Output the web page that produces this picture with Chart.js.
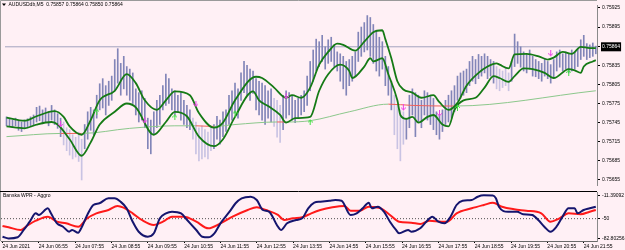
<!DOCTYPE html>
<html><head><meta charset="utf-8">
<script src="https://cdn.jsdelivr.net/npm/chart.js@4.4.1/dist/chart.umd.min.js"></script>
<style>
html,body{margin:0;padding:0;background:#fff0f5;}
#wrap{position:relative;width:625px;height:250px;background:#fff0f5;overflow:hidden}
#c1{position:absolute;left:0;top:0;width:625px;height:190px}
#c2{position:absolute;left:0;top:190px;width:625px;height:60px}
</style></head><body>
<div id="wrap"><canvas id="c1" width="625" height="190"></canvas><canvas id="c2" width="625" height="60"></canvas></div>
<script>
// ---------- DATA ----------
const symbolTitle = "AUDUSDdb,M5  0.75857 0.75864 0.75850 0.75864";
const indicatorTitle = "Banska WPR - Aggro";
const timeLabels = ["24 Jun 2021","24 Jun 06:55","24 Jun 07:55","24 Jun 08:55","24 Jun 09:55","24 Jun 10:55","24 Jun 11:55","24 Jun 12:55","24 Jun 13:55","24 Jun 14:55","24 Jun 15:55","24 Jun 16:55","24 Jun 17:55","24 Jun 18:55","24 Jun 19:55","24 Jun 20:55","24 Jun 21:55"];
const timeLabelBars = [0,12,24,36,48,60,72,84,96,108,120,132,144,156,168,180,192];
const priceTicks = [0.75925,0.75895,0.75835,0.75805,0.75775,0.75745,0.75715,0.75685,0.75655];
const lastPrice = 0.75864;

const barHigh = [0.75754,0.75751,0.75749,0.75752,0.75748,0.75746,0.75749,0.75751,0.75754,0.75757,
0.75769,0.75771,0.75765,0.75768,0.75762,0.75772,0.75765,0.75759,0.75752,0.75746,
0.75737,0.75734,0.75726,0.75722,0.75730,0.75719,0.75742,0.75762,0.75769,0.75765,
0.75788,0.75806,0.75814,0.75803,0.75810,0.75818,0.75844,0.75861,0.75838,0.75849,
0.75833,0.75829,0.75823,0.75798,0.75792,0.75795,0.75783,0.75752,0.75749,0.75762,
0.75780,0.75788,0.75803,0.75821,0.75814,0.75798,0.75795,0.75788,0.75792,0.75780,
0.75772,0.75765,0.75752,0.75746,0.75737,0.75740,0.75734,0.75730,0.75737,0.75742,
0.75755,0.75749,0.75762,0.75765,0.75788,0.75795,0.75807,0.75798,0.75823,0.75841,
0.75835,0.75829,0.75826,0.75814,0.75810,0.75807,0.75803,0.75795,0.75798,0.75783,
0.75780,0.75772,0.75788,0.75795,0.75792,0.75788,0.75780,0.75783,0.75788,0.75795,
0.75818,0.75841,0.75859,0.75876,0.75872,0.75882,0.75864,0.75875,0.75879,0.75867,
0.75856,0.75853,0.75849,0.75841,0.75844,0.75849,0.75856,0.75887,0.75895,0.75902,
0.75913,0.75910,0.75899,0.75890,0.75879,0.75872,0.75849,0.75833,0.75810,0.75788,
0.75772,0.75765,0.75762,0.75752,0.75788,0.75798,0.75792,0.75788,0.75780,0.75795,
0.75792,0.75788,0.75783,0.75762,0.75757,0.75765,0.75780,0.75788,0.75795,0.75803,
0.75818,0.75823,0.75826,0.75829,0.75841,0.75849,0.75844,0.75852,0.75849,0.75853,
0.75849,0.75844,0.75841,0.75833,0.75829,0.75826,0.75832,0.75823,0.75841,0.75884,
0.75872,0.75864,0.75856,0.75853,0.75859,0.75849,0.75844,0.75841,0.75838,0.75846,
0.75841,0.75836,0.75844,0.75856,0.75859,0.75853,0.75856,0.75853,0.75859,0.75856,
0.75862,0.75875,0.75882,0.75869,0.75867,0.75870,0.75865];
const barLow = [0.75740,0.75739,0.75737,0.75740,0.75733,0.75731,0.75736,0.75737,0.75739,0.75740,
0.75746,0.75748,0.75743,0.75746,0.75740,0.75749,0.75742,0.75736,0.75723,0.75710,
0.75701,0.75694,0.75688,0.75691,0.75684,0.75655,0.75704,0.75719,0.75733,0.75726,
0.75752,0.75765,0.75768,0.75757,0.75772,0.75780,0.75795,0.75807,0.75788,0.75798,
0.75788,0.75780,0.75775,0.75757,0.75746,0.75749,0.75737,0.75704,0.75696,0.75726,
0.75737,0.75742,0.75765,0.75772,0.75775,0.75765,0.75757,0.75762,0.75749,0.75742,
0.75737,0.75734,0.75719,0.75696,0.75685,0.75688,0.75691,0.75688,0.75701,0.75704,
0.75719,0.75711,0.75723,0.75731,0.75742,0.75749,0.75760,0.75752,0.75780,0.75792,
0.75788,0.75780,0.75791,0.75765,0.75757,0.75749,0.75742,0.75752,0.75746,0.75739,
0.75722,0.75714,0.75734,0.75752,0.75757,0.75749,0.75745,0.75752,0.75757,0.75762,
0.75772,0.75795,0.75810,0.75826,0.75833,0.75841,0.75829,0.75838,0.75841,0.75833,
0.75826,0.75810,0.75798,0.75788,0.75803,0.75810,0.75818,0.75841,0.75849,0.75856,
0.75859,0.75849,0.75838,0.75826,0.75818,0.75829,0.75803,0.75788,0.75765,0.75726,
0.75704,0.75685,0.75711,0.75719,0.75737,0.75757,0.75723,0.75746,0.75737,0.75757,
0.75749,0.75742,0.75734,0.75726,0.75719,0.75731,0.75742,0.75746,0.75752,0.75762,
0.75780,0.75783,0.75788,0.75792,0.75803,0.75810,0.75806,0.75814,0.75818,0.75823,
0.75814,0.75818,0.75807,0.75798,0.75795,0.75800,0.75803,0.75795,0.75810,0.75833,
0.75838,0.75832,0.75826,0.75823,0.75829,0.75818,0.75817,0.75814,0.75810,0.75818,
0.75814,0.75807,0.75815,0.75826,0.75832,0.75826,0.75829,0.75823,0.75826,0.75829,
0.75833,0.75844,0.75849,0.75844,0.75847,0.75849,0.75853];
const lightBars = [19,20,21,22,23,24,25,62,63,64,65,66,67,68,89,90,91,129,130,131,132,163,164,165,166,167];

const envUpperBar = [0,6,10,16,19,21,25,28,31,36,40,43,46,50,53,56,61,64,69,72,76,83,85,89,93,95,98,101,104,107,110,112,116,119,122,125,126,128,130,132,135,138,142,144,147,150,153,157,160,163,164,167,169,173,177,180,182,185,188,191,194,196];
const envUpper = [0.75753,0.75748,0.75755,0.75763,0.75754,0.75739,0.75726,0.75749,0.75780,0.75795,
0.75821,0.75807,0.75780,0.75765,0.75780,0.75794,0.75788,0.75760,0.75737,0.75745,
0.75780,0.75817,0.75815,0.75800,0.75784,0.75788,0.75784,0.75800,0.75836,0.75856,
0.75869,0.75867,0.75858,0.75872,0.75887,0.75890,0.75876,0.75846,0.75810,0.75797,
0.75792,0.75784,0.75788,0.75777,0.75765,0.75776,0.75803,0.75823,0.75833,0.75838,
0.75836,0.75830,0.75852,0.75853,0.75849,0.75844,0.75847,0.75856,0.75853,0.75864,
0.75862,0.75862];
const envLowerBar = [0,6,10,15,17,21,25,28,31,36,40,43,49,53,56,60,64,69,72,76,82,84,87,91,93,96,101,104,107,111,114,115,119,121,122,125,127,130,131,133,135,137,140,142,145,147,149,152,156,159,162,164,167,169,172,175,179,182,187,189,191,192,195,196];
const envLower = [0.75739,0.75736,0.75742,0.75746,0.75742,0.75719,0.75693,0.75714,0.75742,0.75762,
0.75775,0.75769,0.75726,0.75746,0.75762,0.75755,0.75723,0.75708,0.75719,0.75754,
0.75794,0.75780,0.75771,0.75757,0.75745,0.75752,0.75754,0.75795,0.75821,0.75836,
0.75826,0.75815,0.75833,0.75846,0.75841,0.75846,0.75821,0.75780,0.75757,0.75751,
0.75754,0.75745,0.75754,0.75757,0.75742,0.75739,0.75765,0.75780,0.75784,0.75800,
0.75818,0.75815,0.75809,0.75818,0.75830,0.75829,0.75823,0.75815,0.75829,0.75827,
0.75823,0.75833,0.75841,0.75843];
const maBar = [0,18,25,41,56,63,69,76,90,93,101,114,127,135,149,196];
const maValues = [0.75723,0.75728,0.75728,0.75736,0.75740,0.75740,0.75739,0.75742,0.75746,0.75746,0.75748,0.75762,0.75774,0.75772,0.75771,0.75795];
const maRedRanges = [[18,25],[63,69],[90,93],[127,149]];

const sellArrowBar = [18,46,63,93,132,144,181];
const sellArrowPrice = [0.75742,0.75748,0.75774,0.75786,0.75768,0.75759,0.75853];
const buyArrowBar = [30,56,76,101,150,187];
const buyArrowPrice = [0.75763,0.75754,0.75760,0.75746,0.75769,0.75824];

const wprBar = [0,2,5,7,9,11,12,15,16,18,20,22,23,25,26,28,30,32,35,37,39,41,43,45,48,50,52,54,56,59,61,64,66,68,70,72,75,77,79,82,84,86,88,91,92,94,97,99,101,103,105,108,110,112,115,117,119,121,122,124,126,128,130,131,134,135,138,140,142,144,146,148,150,152,155,157,159,162,163,164,167,170,172,175,177,179,181,183,185,187,189,190,192,194,196];
const wprMain = [-79.8,-82.80256,-80.8,-68.7,-55.0,-41.2,-43.9,-32.9,-41.2,-57.7,
-63.3,-71.6,-68.7,-73.2,-65.9,-43.9,-27.4,-24.6,-16.4,-16.4,
-22.0,-32.9,-55.0,-71.6,-79.8,-74.2,-49.4,-41.2,-38.5,-41.2,
-52.2,-68.7,-79.8,-80.8,-74.2,-57.7,-38.5,-24.6,-16.4,-13.7,
-19.2,-35.7,-38.5,-63.3,-68.7,-57.7,-52.2,-49.4,-32.9,-23.6,
-22.0,-20.3,-19.2,-20.3,-43.9,-41.2,-32.9,-23.6,-32.9,-30.2,
-38.5,-55.0,-68.7,-74.2,-68.7,-71.6,-65.9,-55.0,-46.8,-55.0,
-57.7,-46.8,-27.4,-20.3,-19.2,-13.7,-11.39092,-11.6,-16.4,-30.2,
-38.5,-38.5,-42.8,-43.9,-52.2,-63.3,-71.6,-63.3,-46.8,-32.9,
-32.9,-41.2,-35.7,-32.9,-30.2];
const sigBar = [0,2,6,8,11,15,18,21,25,28,31,35,38,40,43,46,50,53,56,60,64,68,72,76,81,84,87,91,93,96,99,102,105,109,113,115,118,121,125,128,131,135,138,141,145,147,150,155,159,162,165,169,173,178,181,184,187,191,194,196];
const wprSignal = [-62.1,-64.3,-68.7,-62.1,-53.4,-46.8,-55.0,-57.7,-63.3,-49.4,
-41.2,-35.7,-29.1,-31.9,-41.2,-52.2,-60.5,-55.0,-46.8,-46.8,
-55.0,-65.9,-57.7,-46.8,-35.7,-31.2,-35.7,-43.9,-52.2,-49.4,
-47.8,-41.2,-35.7,-31.2,-29.1,-36.9,-36.9,-30.2,-32.9,-43.9,
-55.0,-56.7,-58.8,-53.4,-55.0,-55.0,-41.2,-32.9,-27.4,-23.6,
-30.2,-34.5,-36.9,-41.2,-55.0,-49.4,-41.2,-42.8,-38.5,-35.7];
const wprTicks = [-11.39092,-50,-82.80256];
const wprLevel = -50;

// ---------- STYLE / LAYOUT ----------
const BG = '#fff0f5';
const FONT = 'Liberation Sans';
const X_MIN = -0.5, X_MAX = 196.4;
const AXIS_W = 28;

function makeArrow(color, down){
  const c = document.createElement('canvas'); c.width = 5; c.height = 7;
  const g = c.getContext('2d'); g.fillStyle = color;
  if (down){
    g.fillRect(2,0,1,6);
    g.fillRect(0,3,1,1); g.fillRect(1,4,1,1); g.fillRect(3,4,1,1); g.fillRect(4,3,1,1);
  } else {
    g.fillRect(2,1,1,6);
    g.fillRect(0,3,1,1); g.fillRect(1,2,1,1); g.fillRect(3,2,1,1); g.fillRect(4,3,1,1);
  }
  return c;
}
const arrowDown = makeArrow('#ee3fe6', true);
const arrowUp = makeArrow('#3fe23f', false);

const pts = (xs, ys) => xs.map((x,k)=>({x:x, y:ys[k]}));
const inRed = (a,b) => maRedRanges.some(r => a >= r[0] && b <= r[1]);

const bgPlugin = {
  id:'bgfill',
  beforeDraw(chart){ const c = chart.ctx; c.save(); c.fillStyle = BG; c.fillRect(0,0,chart.width,chart.height); c.restore(); }
};

const mainDeco = {
  id:'mainDeco',
  afterDraw(chart){
    const c = chart.ctx; const a = chart.chartArea;
    c.save();
    c.strokeStyle = '#9a9a9a'; c.lineWidth = 1;
    c.beginPath(); c.moveTo(0.5, chart.height); c.lineTo(0.5,0.5); c.lineTo(a.right, 0.5); c.stroke();
    c.fillStyle = '#000';
    c.beginPath(); c.moveTo(2,3.5); c.lineTo(6,3.5); c.lineTo(4,6); c.closePath(); c.fill();
    c.font = '5px "' + FONT + '"'; c.textBaseline = 'middle'; c.textAlign = 'left';
    c.fillText(symbolTitle, 8.5, 5);
    c.restore();
  }
};
const subDeco = {
  id:'subDeco',
  afterDraw(chart){
    const c = chart.ctx; const a = chart.chartArea;
    c.save();
    c.strokeStyle = '#9a9a9a'; c.lineWidth = 1;
    c.beginPath(); c.moveTo(0.5, 0); c.lineTo(0.5, a.bottom); c.stroke();
    c.strokeStyle = '#000';
    c.beginPath(); c.moveTo(0, 1.5); c.lineTo(a.right, 1.5); c.stroke();
    c.fillStyle = '#000';
    c.font = '5px "' + FONT + '"'; c.textBaseline = 'middle'; c.textAlign = 'left';
    c.fillText(indicatorTitle, 3, 5.7);
    c.restore();
  }
};

new Chart(document.getElementById('c1'), {
  type:'bar',
  data:{ datasets:[
    { type:'line', label:'Sell', data: pts(sellArrowBar, sellArrowPrice), showLine:false, pointStyle: arrowDown, pointRadius:3, order:0 },
    { type:'line', label:'Buy', data: pts(buyArrowBar, buyArrowPrice), showLine:false, pointStyle: arrowUp, pointRadius:3, order:0 },
    { type:'line', label:'Upper', data: pts(envUpperBar, envUpper), borderColor:'#157a15', borderWidth:1.8, pointRadius:0, cubicInterpolationMode:'monotone', order:1 },
    { type:'line', label:'Lower', data: pts(envLowerBar, envLower), borderColor:'#157a15', borderWidth:1.8, pointRadius:0, cubicInterpolationMode:'monotone', order:1 },
    { type:'line', label:'MA', data: pts(maBar, maValues), borderColor:'#8cc88c', borderWidth:1, pointRadius:0, cubicInterpolationMode:'monotone', order:2,
      segment:{ borderColor: ctx => inRed(ctx.p0.parsed.x, ctx.p1.parsed.x) ? '#f0605a' : '#8cc88c' } },
    { type:'bar', label:'Bars', data: barHigh.map((h,i)=>({x:i, y:[barLow[i], h]})),
      backgroundColor: barHigh.map((h,i)=> lightBars.includes(i) ? '#c9c3e3' : '#8285b8'),
      barThickness:1, borderWidth:0, order:3 },
    { type:'line', label:'Last', data:[{x:X_MIN,y:lastPrice},{x:X_MAX,y:lastPrice}], borderColor:'#a3a3bf', borderWidth:1, pointRadius:0, order:5 }
  ]},
  options:{
    responsive:false, animation:false, devicePixelRatio:1,
    layout:{ padding:{ left:1, right:0, top:2, bottom:3 } },
    plugins:{ legend:{display:false}, tooltip:{enabled:false} },
    scales:{
      x:{ type:'linear', min:X_MIN, max:X_MAX, offset:false, display:false },
      y:{ type:'linear', position:'right', min:0.756471, max:0.759296,
        afterBuildTicks: s => { s.ticks = priceTicks.concat([lastPrice]).map(v=>({value:v})); },
        afterFit: s => { s.width = AXIS_W; s.paddingTop = 0; s.paddingBottom = 0; },
        ticks:{ autoSkip:false, callback: v => Number(v).toFixed(5), font:{family:FONT, size:5}, padding:2,
          color: ctx => (ctx.tick && ctx.tick.value === lastPrice) ? '#ffffff' : '#000000',
          showLabelBackdrop: ctx => !!(ctx.tick && ctx.tick.value === lastPrice),
          backdropColor:'#000000', backdropPadding:{x:1, y:1.5} },
        grid:{ drawOnChartArea:false, drawTicks:true, tickLength:3, color:'#000' },
        border:{ display:true, color:'#8a8a8a' }
      }
    }
  },
  plugins:[bgPlugin, mainDeco]
});

new Chart(document.getElementById('c2'), {
  type:'line',
  data:{ datasets:[
    { label:'WPR', data: pts(wprBar, wprMain), borderColor:'#15156e', borderWidth:2, pointRadius:0, cubicInterpolationMode:'monotone', order:0 },
    { label:'Signal', data: pts(sigBar, wprSignal), borderColor:'#ff1a1a', borderWidth:2, pointRadius:0, cubicInterpolationMode:'monotone', order:1 },
    { label:'Level', data:[{x:X_MIN,y:wprLevel},{x:X_MAX,y:wprLevel}], borderColor:'#505050', borderWidth:1, borderDash:[1,2], pointRadius:0, order:2 }
  ]},
  options:{
    responsive:false, animation:false, devicePixelRatio:1,
    layout:{ padding:{ left:1, right:0, top:2, bottom:0 } },
    plugins:{ legend:{display:false}, tooltip:{enabled:false} },
    scales:{
      x:{ type:'linear', min:X_MIN, max:X_MAX, offset:false, position:'bottom',
        afterBuildTicks: s => { s.ticks = timeLabelBars.map(v=>({value:v})); },
        afterFit: s => { s.height = 9; s.paddingLeft = 0; s.paddingRight = 0; },
        ticks:{ autoSkip:false, maxRotation:0, minRotation:0, align:'start', padding:1,
          callback: v => timeLabels[timeLabelBars.indexOf(v)], font:{family:FONT, size:5}, color:'#000' },
        grid:{ drawOnChartArea:false, drawTicks:true, tickLength:2, color:'#000' },
        border:{ display:true, color:'#6a6a6a' }
      },
      y:{ type:'linear', position:'right', min:-86.93, max:-5.94,
        afterBuildTicks: s => { s.ticks = wprTicks.map(v=>({value:v})); },
        afterFit: s => { s.width = AXIS_W; s.paddingTop = 0; s.paddingBottom = 0; },
        ticks:{ autoSkip:false, callback: v => (v === wprLevel ? String(v) : Number(v).toFixed(5)), font:{family:FONT, size:5}, padding:2, color:'#000' },
        grid:{ drawOnChartArea:false, drawTicks:true, tickLength:3, color:'#000' },
        border:{ display:true, color:'#8a8a8a' }
      }
    }
  },
  plugins:[bgPlugin, subDeco]
});
</script>
</body></html>
